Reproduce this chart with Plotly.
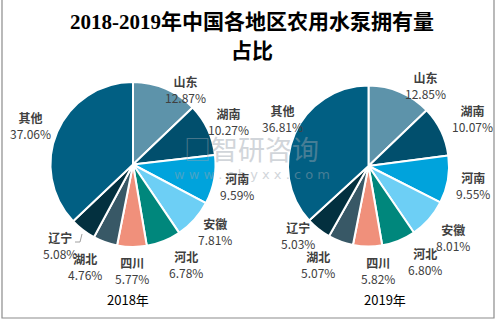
import plotly.graph_objects as go

regions = ["山东", "湖南", "河南", "安徽", "河北", "四川", "湖北", "辽宁", "其他"]
share_2018 = [12.87, 10.27, 9.59, 7.81, 6.78, 5.77, 4.76, 5.08, 37.06]
share_2019 = [12.85, 10.07, 9.55, 8.01, 6.80, 5.82, 5.07, 5.03, 36.81]
years = ["2018年", "2019年"]
colors = ["#5d93aa", "#014f6d", "#00a3dc", "#6dcff5", "#00877c",
          "#f0907b", "#385866", "#03303f", "#015f83"]

W, H = 499, 322

# label block centres (pixels) for each pie, in region order
label_pos_2018 = [(185, 89), (228, 122), (237, 186), (215, 231), (186, 264),
                  (132, 270), (85, 266), (60, 245), (30, 125)]
label_pos_2019 = [(425, 85), (472, 119), (473, 185), (453, 238), (425, 261),
                  (378, 270), (318, 264), (298, 235), (282, 119)]

fig = go.Figure()

def px_dom(cx, cy, r):
    return dict(x=[(cx - r) / W, (cx + r) / W],
                y=[(H - cy - r) / H, (H - cy + r) / H])

for vals, dom in [(share_2018, px_dom(133, 164.5, 82.5)),
                  (share_2019, px_dom(368.5, 166, 80.5))]:
    fig.add_trace(go.Pie(
        labels=regions, values=vals, sort=False, direction="clockwise",
        rotation=0, domain=dom, textinfo="none", hoverinfo="label+percent",
        marker=dict(colors=colors, line=dict(color="white", width=2)),
        showlegend=False,
    ))

ann = []
font_lab = "Noto Sans CJK SC, Noto Sans, sans-serif"

# watermark (drawn first, beneath labels)
ann.append(dict(x=252 / W, y=1 - 148 / H, xref="paper", yref="paper",
                text="□智研咨询", showarrow=False, xanchor="center", yanchor="middle",
                opacity=0.45,
                font=dict(family=font_lab, size=27, color="#9aa4ae")))
ann.append(dict(x=252 / W, y=1 - 174 / H, xref="paper", yref="paper",
                text="w w w . c h y x x . c o m", showarrow=False, xanchor="center", yanchor="middle",
                opacity=0.45,
                font=dict(family="DejaVu Sans, sans-serif", size=13, color="#9aa4ae")))

for vals, pos in [(share_2018, label_pos_2018), (share_2019, label_pos_2019)]:
    for name, v, (x, y) in zip(regions, vals, pos):
        ann.append(dict(x=x / W, y=1 - y / H, xref="paper", yref="paper",
                        text="<b>%s</b><br>%.2f%%" % (name, v), showarrow=False,
                        xanchor="center", yanchor="middle", align="center",
                        font=dict(family=font_lab, size=12, color="#404040")))

for yr, x in zip(years, [128, 385]):
    ann.append(dict(x=x / W, y=1 - 299 / H, xref="paper", yref="paper",
                    text=yr, showarrow=False, xanchor="center", yanchor="middle",
                    font=dict(family=font_lab, size=13, color="#000000")))

# title lines
title_font = dict(family="Liberation Serif, Noto Sans CJK SC, serif", size=21, color="#000000")
ann.append(dict(x=252 / W, y=1 - 22 / H, xref="paper", yref="paper",
                text="<b>2018-2019年中国各地区农用水泵拥有量</b>", showarrow=False,
                xanchor="center", yanchor="middle", font=title_font))
ann.append(dict(x=252 / W, y=1 - 51 / H, xref="paper", yref="paper",
                text="<b>占比</b>", showarrow=False,
                xanchor="center", yanchor="middle", font=title_font))

fig.update_layout(
    width=W, height=H, margin=dict(l=0, r=0, t=0, b=0),
    paper_bgcolor="white", plot_bgcolor="white",
    annotations=ann,
    shapes=[
        dict(type="rect", xref="paper", yref="paper",
             x0=2 / W, x1=494 / W, y0=1 - 318 / H, y1=1 + 2 / H,
             line=dict(color="#8c8c8c", width=1.2)),
        dict(type="path", xref="paper", yref="paper",
             path="M %f %f L %f %f L %f %f" % (75 / W, 1 - 242 / H, 80 / W, 1 - 242 / H, 82 / W, 1 - 234 / H),
             line=dict(color="#a0a0a0", width=1)),
    ],
)

fig.write_html("out.html")
